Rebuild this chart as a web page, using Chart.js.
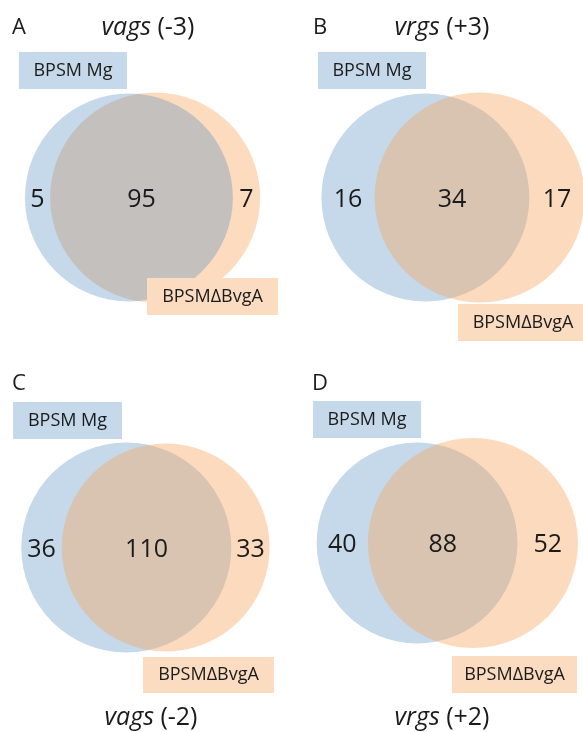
<!DOCTYPE html>
<html>
<head>
<meta charset="utf-8">
<title>Venn diagrams</title>
<script src="https://cdn.jsdelivr.net/npm/chart.js@4"></script>
<style>
  html, body { margin: 0; padding: 0; background: #fff; }
  #wrap { position: relative; width: 583px; height: 732px; overflow: hidden; }
  #wrap canvas { position: absolute; }
</style>
</head>
<body>
<div id="wrap">
  <canvas id="pA" width="291" height="366" style="left:0;top:0"></canvas>
  <canvas id="pB" width="292" height="366" style="left:291px;top:0"></canvas>
  <canvas id="pC" width="291" height="366" style="left:0;top:366px"></canvas>
  <canvas id="pD" width="292" height="366" style="left:291px;top:366px"></canvas>
</div>
<script>
(function() {
  'use strict';

  // --- Data ---
  const panelLetters = ['A', 'B', 'C', 'D'];
  const titleGenes   = ['vags', 'vrgs', 'vags', 'vrgs'];
  const titleShift   = [' (-3)', ' (+3)', ' (-2)', ' (+2)'];
  const setNames     = ['BPSM Mg', 'BPSM\u0394BvgA'];
  const onlyMg       = [5, 16, 36, 40];
  const shared       = [95, 34, 110, 88];
  const onlyBvgA     = [7, 17, 33, 52];

  // --- Layout / style (panel-local pixels) ---
  const canvasIds  = ['pA', 'pB', 'pC', 'pD'];
  const PX_PER_UNIT = 105;          // radius of the larger circle
  const MIN_SEP = 0.25;             // keeps nearly identical sets readable
  const mids       = [[142, 197.5], [161.5, 197.5], [146, 181.5], [154, 177]];
  const letterPos  = [[12, 28], [22, 28], [12, 18], [21, 18]];
  const titlePos   = [[148, 28], [151, 28], [151, 352], [151, 352]];
  const mgBox      = [[19, 52, 108, 37], [27, 52, 108, 37], [13, 36, 109, 37], [22, 35, 108, 37]];
  const bvgBox     = [[147, 278, 131, 37], [167, 304, 130, 37], [143, 291, 131, 36], [161, 290, 125, 37]];
  const blueOnTop  = [true, false, false, false];

  const BLUE_SOLID   = 'rgb(197,217,234)';
  const ORANGE_SOLID = 'rgb(252,219,191)';
  const BLUE_TOP     = 'rgba(62,128,185,0.3)';
  const ORANGE_TOP   = 'rgba(247,162,92,0.4)';
  const BOX_BLUE     = 'rgb(197,217,234)';
  const BOX_ORANGE   = 'rgb(251,220,192)';
  const INK          = '#1b1b1b';
  const FONT         = '"Open Sans", "Liberation Sans", sans-serif';

  // --- Area-proportional circle geometry ---
  function lens(r1, r2, d) {
    if (d >= r1 + r2) return 0;
    if (d <= Math.abs(r1 - r2)) return Math.PI * Math.min(r1, r2) ** 2;
    const a1 = Math.acos((d*d + r1*r1 - r2*r2) / (2*d*r1));
    const a2 = Math.acos((d*d + r2*r2 - r1*r1) / (2*d*r2));
    const k = Math.sqrt((-d+r1+r2) * (d+r1-r2) * (d-r1+r2) * (d+r1+r2));
    return r1*r1*a1 + r2*r2*a2 - 0.5*k;
  }
  function geometry(i) {
    const nMg = onlyMg[i] + shared[i];
    const nBv = onlyBvgA[i] + shared[i];
    const nMax = Math.max(nMg, nBv);
    const r1 = Math.sqrt(nMg / nMax);
    const r2 = Math.sqrt(nBv / nMax);
    const target = Math.PI * shared[i] / nMax;
    let lo = Math.abs(r1 - r2), hi = r1 + r2;
    for (let k = 0; k < 60; k++) {
      const m = (lo + hi) / 2;
      if (lens(r1, r2, m) > target) lo = m; else hi = m;
    }
    const d = Math.max((lo + hi) / 2, MIN_SEP);
    return { r1, r2, c1: -d/2, c2: d/2 };
  }

  // --- Text plugin: titles, set boxes, counts ---
  function drawTitle(ctx, i) {
    const [tx, ty] = titlePos[i];
    ctx.textBaseline = 'middle';
    ctx.font = 'italic 25px ' + FONT;
    const w1 = ctx.measureText(titleGenes[i]).width;
    ctx.font = '25px ' + FONT;
    const w2 = ctx.measureText(titleShift[i]).width;
    const x0 = tx - (w1 + w2) / 2;
    ctx.textAlign = 'left';
    ctx.font = 'italic 25px ' + FONT;
    ctx.fillText(titleGenes[i], x0, ty);
    ctx.font = '25px ' + FONT;
    ctx.fillText(titleShift[i], x0 + w1, ty);
  }
  function drawBox(ctx, box, fill, label) {
    const [x, y, w, h] = box;
    ctx.fillStyle = fill;
    ctx.fillRect(x, y, w, h);
    ctx.fillStyle = INK;
    ctx.font = '18px ' + FONT;
    ctx.textAlign = 'center';
    ctx.textBaseline = 'middle';
    ctx.fillText(label, x + w/2, y + h/2);
  }

  const vennText = {
    id: 'vennText',
    afterDatasetsDraw(chart, args, opts) {
      const i = opts.index;
      const g = opts.geo;
      const ctx = chart.ctx;
      const sx = chart.scales.x, sy = chart.scales.y;
      ctx.save();
      ctx.fillStyle = INK;
      ctx.font = '22px ' + FONT;
      ctx.textAlign = 'left';
      ctx.textBaseline = 'middle';
      ctx.fillText(panelLetters[i], letterPos[i][0], letterPos[i][1]);
      drawTitle(ctx, i);
      drawBox(ctx, mgBox[i], BOX_BLUE, setNames[0]);
      drawBox(ctx, bvgBox[i], BOX_ORANGE, setNames[1]);

      const blueL = g.c1 - g.r1, blueR = g.c1 + g.r1;
      const orL = g.c2 - g.r2, orR = g.c2 + g.r2;
      const xs = [(blueL + orL) / 2, (orL + blueR) / 2, (blueR + orR) / 2];
      const vals = [onlyMg[i], shared[i], onlyBvgA[i]];
      const py = sy.getPixelForValue(0) + 2;
      ctx.fillStyle = INK;
      ctx.font = '25px ' + FONT;
      ctx.textAlign = 'center';
      xs.forEach((v, k) => ctx.fillText(String(vals[k]), sx.getPixelForValue(v), py));
      ctx.restore();
    }
  };

  // --- Build charts ---
  canvasIds.forEach((id, i) => {
    const canvas = document.getElementById(id);
    const W = canvas.width, H = canvas.height;
    const [mx, my] = mids[i];
    const g = geometry(i);

    const radiusPx = r => ctx => {
      const s = ctx.chart.scales.x;
      return Math.abs(s.getPixelForValue(r) - s.getPixelForValue(0));
    };
    const blueSet = {
      label: setNames[0],
      data: [{ x: g.c1, y: 0 }],
      pointRadius: radiusPx(g.r1),
      pointHoverRadius: radiusPx(g.r1),
      backgroundColor: blueOnTop[i] ? BLUE_TOP : BLUE_SOLID,
      borderWidth: 0,
      order: blueOnTop[i] ? 0 : 1
    };
    const orangeSet = {
      label: setNames[1],
      data: [{ x: g.c2, y: 0 }],
      pointRadius: radiusPx(g.r2),
      pointHoverRadius: radiusPx(g.r2),
      backgroundColor: blueOnTop[i] ? ORANGE_SOLID : ORANGE_TOP,
      borderWidth: 0,
      order: blueOnTop[i] ? 1 : 0
    };

    new Chart(canvas, {
      type: 'scatter',
      data: { datasets: [blueSet, orangeSet] },
      options: {
        responsive: false,
        animation: false,
        events: [],
        layout: { padding: 0 },
        scales: {
          x: { type: 'linear', display: false, min: -mx / PX_PER_UNIT, max: (W - mx) / PX_PER_UNIT },
          y: { type: 'linear', display: false, min: -(H - my) / PX_PER_UNIT, max: my / PX_PER_UNIT }
        },
        plugins: {
          legend: { display: false },
          tooltip: { enabled: false },
          vennText: { index: i, geo: g }
        }
      },
      plugins: [vennText]
    });
  });

})();
</script>
</body>
</html>
